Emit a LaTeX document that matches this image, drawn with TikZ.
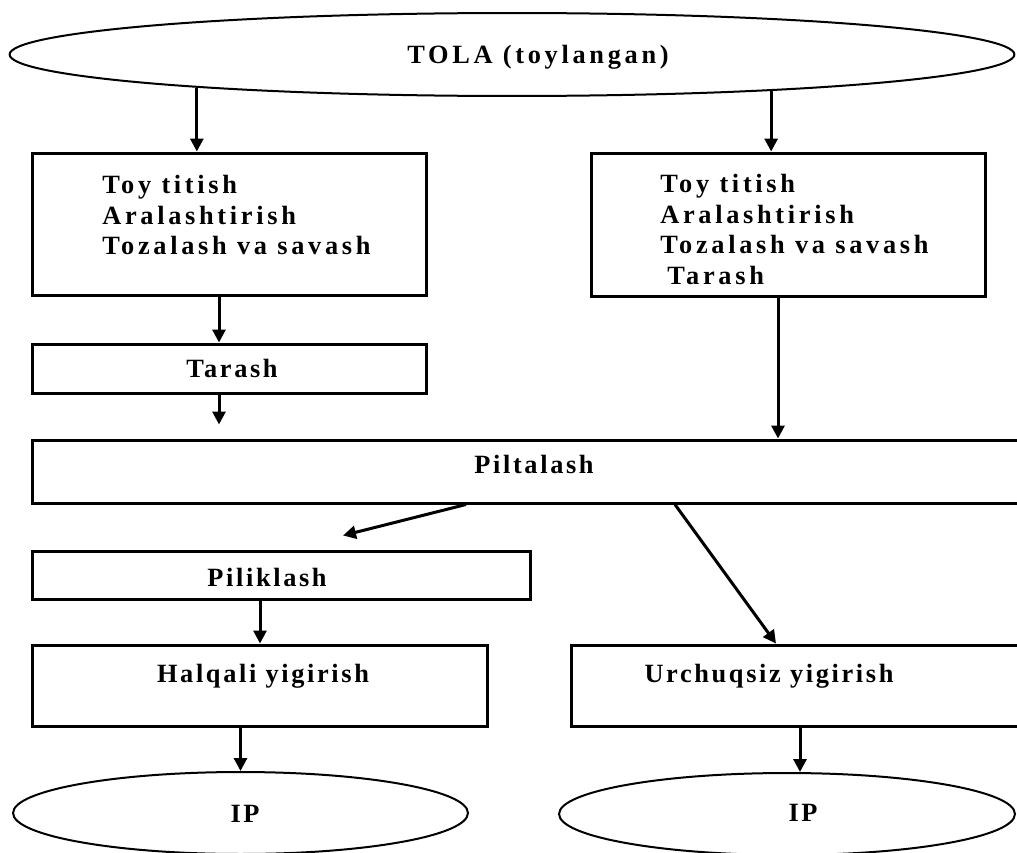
\documentclass[tikz,border=0pt]{standalone}
\usepackage{fontspec}
\newfontfamily\flowfont[LetterSpace=10]{Liberation Serif}
\newfontfamily\wideflowfont[LetterSpace=14]{Liberation Serif}
\usetikzlibrary{shapes.geometric,arrows.meta}

\begin{document}
\begin{tikzpicture}[x=0.02cm, y=-0.02cm,
    box/.style={draw, rectangle, line width=0.06cm, inner sep=0pt},
    oval/.style={draw, ellipse, line width=0.04cm, inner sep=0pt},
    txt/.style={inner sep=0pt, font=\flowfont\bfseries\fontsize{15}{17.4}\selectfont},
    widetxt/.style={txt, font=\wideflowfont\bfseries\fontsize{15}{17.4}\selectfont},
    arr/.style={line width=0.06cm, -{Triangle[length=0.26cm,width=0.26cm]}}]
        \useasboundingbox (0,0) rectangle (1017,852);
        \clip (0,0) rectangle (1017,852);

        % shapes
        \node[oval, minimum width=20.1cm, minimum height=1.66cm] (tola)  at (512,54.5)   {};
        \node[box,  minimum width=7.9cm,  minimum height=2.86cm] (mix1)  at (229.5,224.5) {};
        \node[box,  minimum width=7.9cm,  minimum height=2.88cm] (mix2)  at (788.5,225)   {};
        \node[box,  minimum width=7.9cm,  minimum height=0.98cm] (card)  at (229.5,368.5) {};
        \node[box,  minimum width=20.3cm, minimum height=1.26cm] (pilt)  at (539.5,471.5) {};
        \node[box,  minimum width=9.98cm, minimum height=0.96cm] (pilik) at (281.5,575)   {};
        \node[box,  minimum width=9.12cm, minimum height=1.62cm] (halq)  at (260,685.5)   {};
        \node[box,  minimum width=9.5cm,  minimum height=1.62cm] (urch)  at (808.5,685.5) {};
        \node[oval, minimum width=9.1cm,  minimum height=1.64cm] (ip1)   at (240.5,813)   {};
        \node[oval, minimum width=9.12cm, minimum height=1.64cm] (ip2)   at (787,814)     {};

        % labels
        \node[widetxt, anchor=base] (tolat) at (538,63) {TOLA (toylangan)};
        \node[widetxt, anchor=north west, align=left] (mix1t) at (102,175)
              {Toy titish\\Aralashtirish\\Tozalash va savash};
        \node[widetxt, anchor=north west, align=left] (mix2t) at (660,174)
              {Toy titish\\Aralashtirish\\Tozalash va savash\\\hspace*{0.14cm}Tarash};
        \node[txt, anchor=base] (cardt)  at (232,377) {Tarash};
        \node[txt, anchor=base] (piltt)  at (534,473) {Piltalash};
        \node[txt, anchor=base] (pilikt) at (267,586) {Piliklash};
        \node[txt, anchor=base] (halqt)  at (263,682) {Halqali yigirish};
        \node[txt, anchor=base] (urcht)  at (769,682) {Urchuqsiz yigirish};
        \node[txt, anchor=base] (ip1t)   at (245,822) {IP};
        \node[txt, anchor=base] (ip2t)   at (803,821) {IP};

        % arrows
        \draw[arr] (tola.186.9) -- (tola.186.9 |- mix1.north);
        \draw[arr] (tola.352.7) -- (tola.352.7 |- mix2.north);
        \draw[arr] ([xshift=-0.21cm]mix1.south) -- ([xshift=-0.21cm]card.north);
        \draw[arr] ([xshift=-0.21cm]card.south) -- ++(0,30);
        \draw[arr] ([xshift=-0.21cm]mix2.south) -- ([xshift=-0.21cm]mix2.south |- pilt.north);
        \draw[arr] ([xshift=-1.47cm]pilt.south) -- ++(-123,31);
        \draw[arr] ([xshift=2.71cm]pilt.south) -- ([xshift=-0.65cm]urch.north);
        \draw[arr] (pilik.south -| halq.north) -- (halq.north);
        \draw[arr] (halq.south -| ip1.north) -- (ip1.north);
        \draw[arr] ([xshift=0.26cm]ip2.north |- urch.south) -- ([xshift=0.26cm]ip2.north);
    \end{tikzpicture}
\end{document}
